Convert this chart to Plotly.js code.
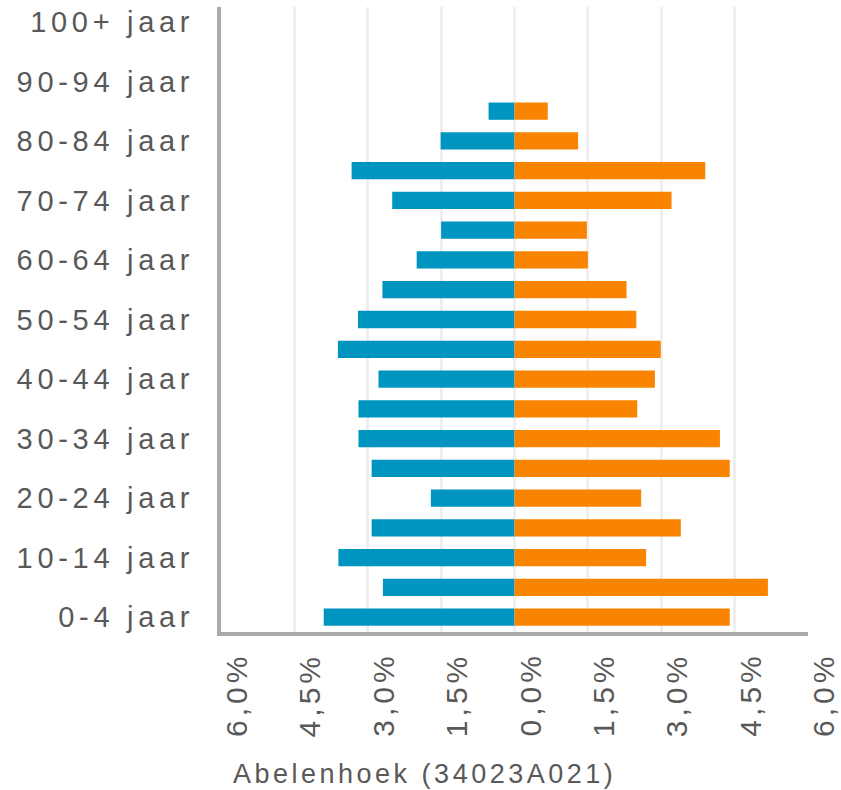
<!DOCTYPE html>
<html>
<head>
<meta charset="utf-8">
<script src="https://cdn.plot.ly/plotly-3.0.1.min.js"></script>
<style>
  html, body { margin: 0; padding: 0; background: #fff; }
  #chart { width: 841px; height: 790px; }
  svg text { letter-spacing: 4px; }
  svg .ytick text { letter-spacing: 4.7px; }
  svg .gtitle { letter-spacing: 3.5px; }
</style>
</head>
<body>
<div id="chart"></div>
<script>
// Age groups from youngest to oldest
const ageGroups = ['0-4 jaar','5-9 jaar','10-14 jaar','15-19 jaar','20-24 jaar','25-29 jaar',
  '30-34 jaar','35-39 jaar','40-44 jaar','45-49 jaar','50-54 jaar','55-59 jaar','60-64 jaar',
  '65-69 jaar','70-74 jaar','75-79 jaar','80-84 jaar','85-89 jaar','90-94 jaar','95-99 jaar','100+ jaar'];

// Share of population (%) per age group
const men   = [3.90, 2.69, 3.60, 2.92, 1.71, 2.92, 3.19, 3.19, 2.78, 3.61, 3.20, 2.70, 2.00, 1.50, 2.50, 3.33, 1.51, 0.53, 0, 0, 0];
const women = [4.40, 5.18, 2.69, 3.40, 2.59, 4.40, 4.20, 2.51, 2.87, 2.99, 2.49, 2.29, 1.50, 1.48, 3.21, 3.90, 1.30, 0.68, 0, 0, 0];

// Tick labels
const yTickLabels = ['0-4 jaar','10-14 jaar','20-24 jaar','30-34 jaar','40-44 jaar','50-54 jaar',
  '60-64 jaar','70-74 jaar','80-84 jaar','90-94 jaar','100+ jaar'];
const xTickVals = [-6, -4.5, -3, -1.5, 0, 1.5, 3, 4.5, 6];
const xTickText = ['6,0%','4,5%','3,0%','1,5%','0,0%','1,5%','3,0%','4,5%','6,0%'];
const chartTitle = 'Abelenhoek (34023A021)';

const textColor = '#595959';
const fontFam = '"Liberation Sans", Arial, sans-serif';

const traces = [
  {
    type: 'bar', orientation: 'h', name: 'Mannen',
    y: ageGroups, x: men.map(v => -v),
    marker: { color: '#0094c0' },
    hoverinfo: 'none'
  },
  {
    type: 'bar', orientation: 'h', name: 'Vrouwen',
    y: ageGroups, x: women,
    marker: { color: '#f98400' },
    hoverinfo: 'none'
  }
];

// rotated x tick labels, drawn as annotations tied to the x axis values
const xLabelAnnotations = xTickVals.map((v, i) => ({
  x: v, xref: 'x',
  y: 0, yref: 'paper',
  text: xTickText[i],
  textangle: -90,
  showarrow: false,
  xanchor: 'center', yanchor: 'top',
  xshift: 15, yshift: -19,
  font: { family: fontFam, size: 30, color: textColor }
}));

const layout = {
  width: 841, height: 790,
  margin: { l: 221, r: 33, t: 7, b: 158, pad: 0 },
  paper_bgcolor: '#ffffff',
  plot_bgcolor: '#ffffff',
  showlegend: false,
  barmode: 'relative',
  bargap: 0.42,
  font: { family: fontFam, color: textColor, size: 29 },
  title: {
    text: chartTitle,
    font: { family: fontFam, size: 27, color: textColor },
    x: 233 / 841, xanchor: 'left', xref: 'container',
    y: 16 / 790, yanchor: 'middle', yref: 'container'
  },
  annotations: xLabelAnnotations,
  xaxis: {
    range: [-6, 6],
    tickvals: xTickVals,
    showticklabels: false,
    ticks: '',
    showgrid: true,
    gridcolor: '#efefef',
    gridwidth: 3,
    zeroline: false,
    showline: true,
    linecolor: '#a9a9a9',
    linewidth: 4,
    fixedrange: true
  },
  yaxis: {
    type: 'category',
    categoryorder: 'array',
    categoryarray: ageGroups,
    range: [-0.5, ageGroups.length - 0.5],
    tickvals: yTickLabels,
    ticktext: yTickLabels,
    ticks: '',
    ticklabelstandoff: 17,
    showgrid: false,
    zeroline: false,
    showline: true,
    linecolor: '#a9a9a9',
    linewidth: 4,
    tickfont: { family: fontFam, size: 29, color: textColor },
    fixedrange: true
  }
};

Plotly.newPlot('chart', traces, layout, { displayModeBar: false, staticPlot: true });
</script>
</body>
</html>
